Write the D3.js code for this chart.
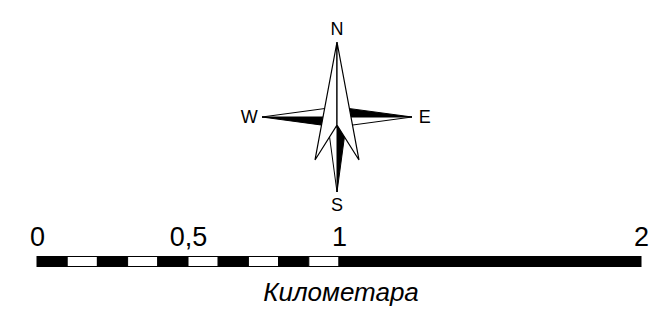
<!DOCTYPE html>
<html>
<head>
<meta charset="utf-8">
<script src="https://cdn.jsdelivr.net/npm/d3@7"></script>
<style>
  body { margin: 0; background: #fff; }
  text { font-family: Arial, "Liberation Sans", sans-serif; fill: #000; }
</style>
</head>
<body>
<div id="chart"></div>
<script>
// scale bar data (km)
var breaks = [0, 0.1, 0.2, 0.3, 0.4, 0.5, 0.6, 0.7, 0.8, 0.9, 1, 2];
var fills = ["#000", "#fff", "#000", "#fff", "#000", "#fff", "#000", "#fff", "#000", "#fff", "#000"];
var tickValues = [0, 0.5, 1, 2];
var tickLabels = ["0", "0,5", "1", "2"];
var unitLabel = "Километара";

// compass rose
var directions = ["N", "E", "S", "W"];
var angles = [0, 90, 180, 270];

var width = 655, height = 314;

var svg = d3.select("#chart").append("svg")
    .attr("width", width)
    .attr("height", height);

// ---- scale bar ----
var x = d3.scaleLinear().domain([0, 2]).range([37, 641]);
var barTop = 256.5, barH = 10;

var segs = d3.pairs(breaks).map(function (p, i) {
    return {x0: p[0], x1: p[1], fill: fills[i]};
});

svg.append("g").selectAll("rect")
    .data(segs)
    .join("rect")
    .attr("x", function (d) { return x(d.x0); })
    .attr("y", barTop)
    .attr("width", function (d) { return x(d.x1) - x(d.x0); })
    .attr("height", barH)
    .attr("fill", function (d) { return d.fill; })
    .attr("stroke", "#000")
    .attr("stroke-width", 1);

var axis = d3.axisTop(x)
    .tickValues(tickValues)
    .tickFormat(function (d, i) { return tickLabels[i]; })
    .tickSize(0)
    .tickPadding(0);

var ax = svg.append("g")
    .attr("transform", "translate(0,246)")
    .call(axis);
ax.select(".domain").remove();
ax.selectAll("text")
    .attr("dy", 0)
    .style("font-size", "27px")
    .style("font-family", "Arial, 'Liberation Sans', sans-serif");

svg.append("text")
    .attr("x", x(1) + 2)
    .attr("y", 301)
    .attr("text-anchor", "middle")
    .style("font-size", "26px")
    .style("font-style", "italic")
    .text(unitLabel);

// ---- compass ----
var cx = 337, cy = 117;
var r = d3.scaleLinear().domain([0, 1]).range([0, 75]);
var line = d3.line().x(function (d) { return r(d[0]); }).y(function (d) { return -r(d[1]); });

var armW = 0.135;
// arm halves in local coords (pointing up): left half black, right half white
var leftHalf = [[0, 0], [-armW, 0], [0, 1]];
var rightHalf = [[0, 0], [0, 1], [armW, 0]];

// north arrow (wide chevron)
var nLeft = [[0, 1], [-0.293, -0.573], [0, -0.107]];
var nRight = [[0, 1], [0, -0.107], [0.293, -0.573]];

var rose = svg.append("g")
    .attr("transform", "translate(" + cx + "," + cy + ")");

var arms = rose.selectAll("g.arm")
    .data(angles.slice(1))
    .join("g")
    .attr("class", "arm")
    .attr("transform", function (d) { return "rotate(" + d + ")"; });

arms.append("path")
    .attr("d", line(leftHalf) + "Z")
    .attr("fill", "#000")
    .attr("stroke", "#000")
    .attr("stroke-width", 1);
arms.append("path")
    .attr("d", line(rightHalf) + "Z")
    .attr("fill", "#fff")
    .attr("stroke", "#000")
    .attr("stroke-width", 1);

rose.append("path")
    .attr("d", line(nLeft) + "Z")
    .attr("fill", "#fff")
    .attr("stroke", "#000")
    .attr("stroke-width", 1.2);
rose.append("path")
    .attr("d", line(nRight) + "Z")
    .attr("fill", "#fff")
    .attr("stroke", "#000")
    .attr("stroke-width", 1.2);

var labelR = r(1.17);
rose.selectAll("text.dir")
    .data(directions)
    .join("text")
    .attr("class", "dir")
    .attr("x", function (d, i) { return labelR * Math.sin(angles[i] * Math.PI / 180); })
    .attr("y", function (d, i) { return -labelR * Math.cos(angles[i] * Math.PI / 180); })
    .attr("text-anchor", "middle")
    .attr("dominant-baseline", "central")
    .style("font-size", "18px")
    .text(function (d) { return d; });
</script>
</body>
</html>
